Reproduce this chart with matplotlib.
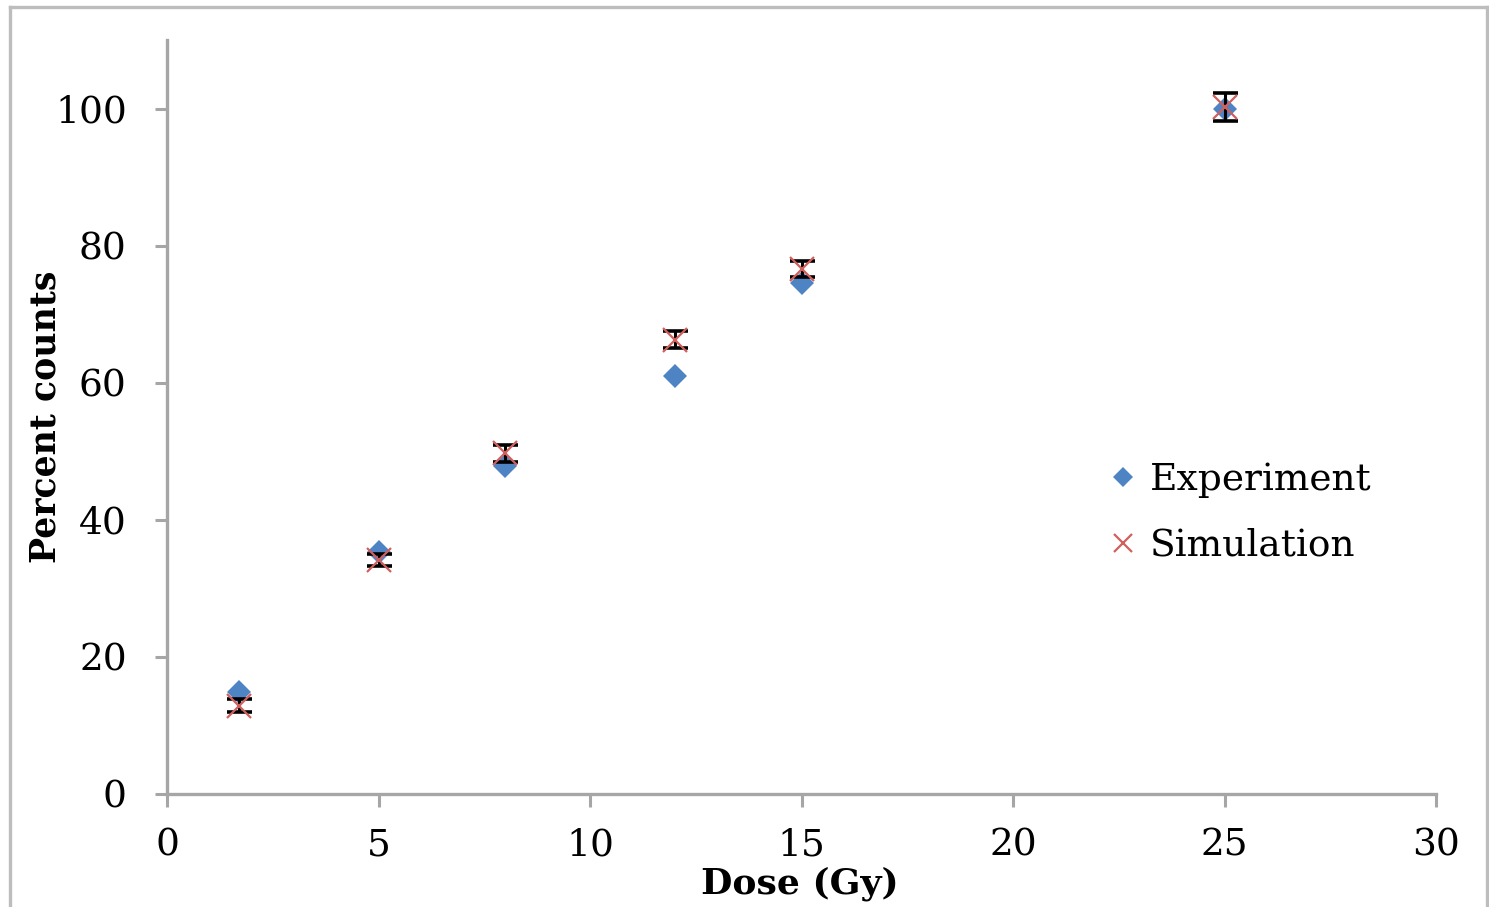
import matplotlib
matplotlib.use("Agg")
import matplotlib.pyplot as plt
from matplotlib.lines import Line2D

# Dose points (Gy)
dose = [1.7, 5, 8, 12, 15, 25]
# Measured percent counts
experiment = [14.9, 35.3, 47.9, 61.0, 74.5, 100.0]
# Simulated percent counts and their uncertainties
simulation = [12.9, 34.1, 49.7, 66.3, 76.6, 100.2]
sim_err = [0.9, 0.9, 1.2, 1.3, 1.2, 2.0]

xticks = [0, 5, 10, 15, 20, 25, 30]
yticks = [0, 20, 40, 60, 80, 100]

plt.rcParams['font.family'] = ['DejaVu Serif']
axis_gray = '#a6a6a6'
blue = '#4f84c4'
red = '#d0605d'

fig = plt.figure(figsize=(14.89, 9.07), dpi=100)
ax = fig.add_axes([167 / 1489, 1 - 794 / 907, (1436 - 167) / 1489, (794 - 40) / 907])

ax.errorbar(dose, simulation, yerr=sim_err, fmt='none', ecolor='black',
            elinewidth=2.2, capsize=9, capthick=2.6, zorder=3)
ax.plot(dose, experiment, linestyle='none', marker='D', markersize=12.5,
        color=blue, markeredgewidth=0, zorder=2, label='Experiment')
ax.plot(dose, simulation, linestyle='none', marker='x', markersize=17,
        markeredgewidth=1.6, color=red, zorder=4, label='Simulation')

ax.set_xlim(0, 30)
ax.set_ylim(0, 110)
ax.set_xticks(xticks)
ax.set_yticks(yticks)
ax.tick_params(axis='both', direction='out', length=9, width=2.2,
               color=axis_gray, labelsize=27)
ax.tick_params(axis='x', pad=15)
ax.tick_params(axis='y', pad=20)
for side in ('top', 'right'):
    ax.spines[side].set_visible(False)
for side in ('left', 'bottom'):
    ax.spines[side].set_color(axis_gray)
    ax.spines[side].set_linewidth(2.4)

ax.set_xlabel('Dose (Gy)', fontsize=26, fontweight='bold', va='center')
ax.set_ylabel('Percent counts', fontsize=25, fontweight='bold', va='center')
ax.xaxis.set_label_coords((800 - 167) / 1269, (794 - 884) / 754)
ax.yaxis.set_label_coords((46 - 167) / 1269, (794 - 417) / 754)

ax.legend(loc='center left', bbox_to_anchor=(0.73, (794 - 513) / 754),
          borderaxespad=0, frameon=False, fontsize=27, handlelength=0.8,
          handletextpad=0.3, labelspacing=0.8, markerscale=0.8)

# Outer chart frame
frame_kw = dict(color='#bdbdbd', linewidth=2.4, transform=fig.transFigure)
fig.add_artist(Line2D([10 / 1489, 10 / 1489], [0, 1 - 7 / 907], **frame_kw))
fig.add_artist(Line2D([10 / 1489, 1487 / 1489], [1 - 7 / 907, 1 - 7 / 907], **frame_kw))
fig.add_artist(Line2D([1487 / 1489, 1487 / 1489], [0, 1 - 7 / 907], **frame_kw))

fig.savefig('out.png', dpi=100)
